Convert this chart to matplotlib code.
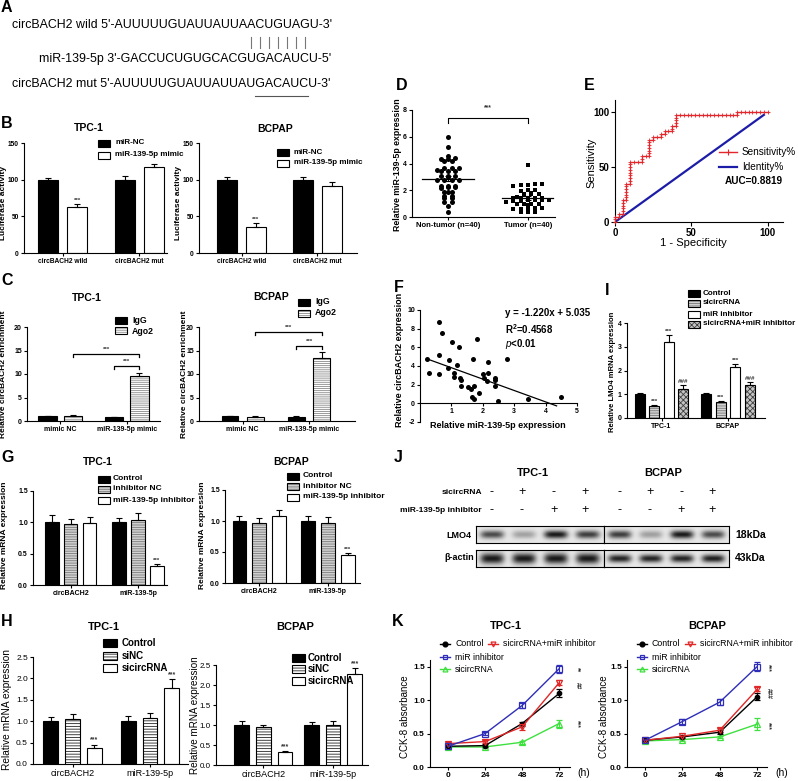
import numpy as np
import matplotlib
matplotlib.use('Agg')
import matplotlib.pyplot as plt
from matplotlib.patches import Rectangle
from matplotlib.lines import Line2D

plt.rcParams['font.family'] = ['Liberation Sans', 'DejaVu Sans']
plt.rcParams['mathtext.fontset'] = 'custom'
plt.rcParams['mathtext.rm'] = 'Liberation Sans'
plt.rcParams['mathtext.bf'] = 'Liberation Sans:bold'
plt.rcParams['mathtext.it'] = 'Liberation Sans:italic'
plt.rcParams['hatch.linewidth'] = 0.6
plt.rcParams['axes.linewidth'] = 0.8

# ======================= DATA =======================
# A: sequences
a_wild_prefix = "circBACH2 wild 5'-"
a_wild_seq = "AUUUUUGUAUUAUUAACUGUAGU"
a_wild_suffix = "-3'"
a_mir_prefix = "miR-139-5p 3'-"
a_mir_seq = "GACCUCUGUGCACGUGACAUCU"
a_mir_suffix = "-5'"
a_mut_prefix = "circBACH2 mut 5'-"
a_mut_seq = "AUUUUUGUAUUAUUAUGACAUCU"
a_mut_suffix = "-3'"
a_pair_wild = (15, 22)
a_pair_mir = (14, 21)
a_mut_under = (16, 22)

# B: luciferase
b_groups = ['circBACH2 wild', 'circBACH2 mut']
b_series = ['miR-NC', 'miR-139-5p mimic']
b_tpc_vals = [[100, 100], [63, 117]]
b_tpc_err = [[2.5, 4.5], [4, 5]]
b_tpc_stars = [['', ''], ['***', '']]
b_bcp_vals = [[100, 100], [36, 91]]
b_bcp_err = [[4, 3], [5, 6]]
b_bcp_stars = [['', ''], ['***', '']]

# C: RIP
c_groups = ['mimic NC', 'miR-139-5p mimic']
c_series = ['IgG', 'Ago2']
c_tpc_vals = [[1.0, 0.9], [1.1, 9.5]]
c_tpc_err = [[0.05, 0.05], [0.1, 0.7]]
c_bcp_vals = [[1.0, 0.95], [0.95, 13.5]]
c_bcp_err = [[0.05, 0.05], [0.05, 1.2]]
c_tpc_brackets = [(11.0, 11.7), (13.6, 14.3)]
c_bcp_brackets = [(15.3, 16.0), (18.2, 18.9)]

# D: scatter dot plot
d_groups = ['Non-tumor (n=40)', 'Tumor (n=40)']
d_nontumor = [6.0, 5.2, 4.55, 4.4, 4.3, 4.2, 4.2, 4.3, 3.7, 3.7, 3.7, 3.45, 3.45, 3.5,
              3.45, 3.1, 3.1, 3.0, 3.1, 2.8, 2.75, 2.75, 2.8, 2.3, 2.25, 2.2, 2.3, 2.3,
              2.25, 1.9, 1.85, 1.9, 1.55, 1.45, 1.45, 1.55, 1.1, 1.1, 0.85, 0.38]
d_tumor = [3.9, 2.45, 2.4, 2.35, 2.45, 2.4, 2.05, 1.95, 2.0, 1.75, 1.7, 1.8, 1.7, 1.65,
           1.45, 1.45, 1.5, 1.45, 1.4, 1.45, 1.25, 1.25, 1.2, 1.25, 1.25, 1.2, 1.15,
           0.95, 0.95, 0.9, 0.95, 0.95, 0.65, 0.6, 0.65, 0.65, 0.6, 0.35, 0.35, 0.4]

# E: ROC
e_fpr = [0, 0, 0, 2.5, 2.5, 5, 5, 5, 5, 5, 5, 7.5, 7.5, 7.5, 7.5, 7.5, 7.5, 7.5,
         10, 10, 10, 10, 10, 10, 10, 10, 10, 12.5, 15, 17.5, 17.5, 17.5, 20, 22.5,
         22.5, 22.5, 22.5, 22.5, 22.5, 22.5, 25, 25, 27.5, 30, 30, 32.5, 32.5, 35,
         37.5, 37.5, 37.5, 40, 40, 40, 40, 40, 42.5, 45, 47.5, 50, 52.5, 55, 57.5,
         60, 62.5, 65, 67.5, 70, 72.5, 75, 77.5, 80, 80, 82.5, 85, 87.5, 90, 92.5,
         95, 97.5, 100]
e_tpr = [0, 2.5, 5, 5, 7.5, 7.5, 10, 12.5, 15, 17.5, 20, 20, 22.5, 25, 27.5, 30,
         32.5, 35, 35, 37.5, 40, 42.5, 45, 47.5, 50, 52.5, 55, 55, 55, 55, 57.5, 60,
         60, 60, 62.5, 65, 67.5, 70, 72.5, 75, 75, 77.5, 77.5, 77.5, 80, 80, 82.5,
         82.5, 82.5, 85, 87.5, 87.5, 90, 92.5, 95, 97.5, 97.5, 97.5, 97.5, 97.5,
         97.5, 97.5, 97.5, 97.5, 97.5, 97.5, 97.5, 97.5, 97.5, 97.5, 97.5, 97.5, 100,
         100, 100, 100, 100, 100, 100, 100, 100]
e_identity = [0, 97.5]
e_auc = 'AUC=0.8819'

# F: correlation
f_x = [0.23, 0.30, 0.61, 0.71, 0.61, 0.60, 0.91, 0.90, 1.03, 1.09, 1.08, 1.18, 1.25,
       1.27, 1.29, 1.30, 1.68, 1.80, 1.52, 1.64, 1.72, 1.67, 1.72, 1.89, 2.01, 2.05,
       2.14, 2.18, 2.16, 2.38, 2.40, 2.38, 2.49, 2.76, 3.43, 4.50]
f_y = [4.8, 3.3, 8.75, 7.55, 5.15, 3.15, 4.6, 3.8, 6.55, 3.3, 2.8, 4.1, 6.0, 2.75, 2.5,
       1.9, 4.75, 6.9, 1.75, 1.5, 1.9, 0.65, 0.45, 1.1, 3.1, 2.75, 2.4, 4.4, 3.3, 2.75,
       2.45, 1.9, 0.3, 4.8, 0.45, 0.65]
f_slope, f_intercept = -1.220, 5.035
f_fit_x = [0.23, 4.35]

# G
g_groups = ['circBACH2', 'miR-139-5p']
g_series = ['Control', 'inhibitor NC', 'miR-139-5p inhibitor']
g_tpc_vals = [[1.0, 1.0], [0.97, 1.04], [0.99, 0.30]]
g_tpc_err = [[0.12, 0.07], [0.08, 0.11], [0.09, 0.04]]
g_bcp_vals = [[1.0, 1.0], [0.96, 0.96], [1.08, 0.45]]
g_bcp_err = [[0.08, 0.08], [0.09, 0.10], [0.10, 0.04]]
g_stars = [['', ''], ['', ''], ['', '***']]

# H
h_groups = ['circBACH2', 'miR-139-5p']
h_series = ['Control', 'siNC', 'sicircRNA']
h_tpc_vals = [[1.0, 1.0], [1.05, 1.07], [0.37, 1.77]]
h_tpc_err = [[0.10, 0.11], [0.11, 0.12], [0.08, 0.22]]
h_bcp_vals = [[1.0, 1.0], [0.95, 1.0], [0.32, 2.27]]
h_bcp_err = [[0.09, 0.07], [0.06, 0.10], [0.03, 0.16]]
h_stars = [['', ''], ['', ''], ['***', '***']]

# I
i_groups = ['TPC-1', 'BCPAP']
i_series = ['Control', 'sicircRNA', 'miR inhibitor', 'sicircRNA+miR inhibitor']
i_vals = [[1.0, 1.0], [0.52, 0.67], [3.22, 2.15], [1.22, 1.38]]
i_err = [[0.05, 0.06], [0.04, 0.03], [0.28, 0.13], [0.18, 0.14]]
i_stars = [['', ''], ['***', '***'], ['***', '***'], ['###', '###']]

# J: western blot
j_cells = ['TPC-1', 'BCPAP']
j_sicirc = ['-', '+', '-', '+', '-', '+', '-', '+']
j_inhib = ['-', '-', '+', '+', '-', '-', '+', '+']
j_lmo4 = [[0.72, 0.32, 0.95, 0.78], [0.78, 0.33, 0.95, 0.72]]
j_actin = [[0.95, 0.95, 0.95, 0.95], [0.9, 0.9, 0.9, 0.92]]

# K: CCK-8
k_time = [0, 24, 48, 72]
k_names = ['Control', 'sicircRNA+miR inhibitor', 'miR inhibitor', 'sicircRNA']
k_tpc = {'Control': ([0.31, 0.32, 0.65, 1.10], [0.02, 0.02, 0.03, 0.06]),
         'sicircRNA+miR inhibitor': ([0.35, 0.38, 0.60, 1.26], [0.02, 0.02, 0.05, 0.04]),
         'miR inhibitor': ([0.31, 0.50, 0.92, 1.47], [0.02, 0.02, 0.04, 0.06]),
         'sicircRNA': ([0.30, 0.30, 0.37, 0.65], [0.02, 0.02, 0.02, 0.06])}
k_bcp = {'Control': ([0.40, 0.45, 0.52, 1.05], [0.02, 0.02, 0.03, 0.05]),
         'sicircRNA+miR inhibitor': ([0.40, 0.46, 0.55, 1.16], [0.02, 0.02, 0.03, 0.03]),
         'miR inhibitor': ([0.40, 0.68, 0.97, 1.50], [0.02, 0.04, 0.04, 0.07]),
         'sicircRNA': ([0.39, 0.41, 0.45, 0.64], [0.02, 0.02, 0.02, 0.09])}
k_tpc_annot = [('**', 1.45), ('##', 1.22), ('***', 0.64)]
k_bcp_annot = [('***', 1.48), ('###', 1.10), ('***', 0.62)]

# ======================= LAYOUT HELPERS =======================
W, H = 798, 781
fig = plt.figure(figsize=(W / 100, H / 100), dpi=100)
fig.patch.set_facecolor('white')


def fx(x):
    return x / W


def fy(y):
    return 1 - y / H


def box(l, t, r, b):
    return [l / W, 1 - b / H, (r - l) / W, (b - t) / H]


def ftxt(x, y, s, **kw):
    kw.setdefault('ha', 'left')
    kw.setdefault('va', 'center')
    return fig.text(fx(x), fy(y), s, **kw)


def make_ax(l, t, r, b, xlim, ylim):
    ax = fig.add_axes(box(l, t, r, b))
    ax.set_xlim(*xlim)
    ax.set_ylim(*ylim)
    ax.spines['top'].set_visible(False)
    ax.spines['right'].set_visible(False)
    ax.patch.set_alpha(0)
    ax.tick_params(direction='out', length=2.5, width=0.8, pad=1.2, colors='black')
    return ax


STY = {
    'black': dict(fc='black', hatch=None, hc=None),
    'white': dict(fc='white', hatch=None, hc=None),
    'gstripe': dict(fc='#d2d2d2', hatch='-------', hc='#7a7a7a'),
    'wstripe': dict(fc='white', hatch='--------', hc='#8a8a8a'),
    'kstripe': dict(fc='white', hatch='------', hc='#222222'),
    'check': dict(fc='#c4c4c4', hatch='xxxxxx', hc='#404040'),
}


def draw_bar(ax, x, h, w, style, lw=0.8):
    st = STY[style]
    if st['hatch']:
        ax.bar(x, h, w, color=st['fc'], edgecolor=st['hc'], hatch=st['hatch'],
               linewidth=0, zorder=2)
        ax.bar(x, h, w, fill=False, edgecolor='black', linewidth=lw, zorder=3)
    else:
        ax.bar(x, h, w, color=st['fc'], edgecolor='black', linewidth=lw, zorder=2)


def leg_patch(x, y, style, label, fs, weight='bold', w=12, h=7, tx=None):
    st = STY[style]
    if st['hatch']:
        fig.add_artist(Rectangle((fx(x), fy(y + h / 2)), w / W, h / H,
                                 transform=fig.transFigure, facecolor=st['fc'],
                                 edgecolor=st['hc'], hatch=st['hatch'], linewidth=0))
        fig.add_artist(Rectangle((fx(x), fy(y + h / 2)), w / W, h / H,
                                 transform=fig.transFigure, fill=False,
                                 edgecolor='black', linewidth=0.8))
    else:
        fig.add_artist(Rectangle((fx(x), fy(y + h / 2)), w / W, h / H,
                                 transform=fig.transFigure, facecolor=st['fc'],
                                 edgecolor='black', linewidth=0.8))
    ftxt(tx if tx is not None else x + w + 5, y, label, fontsize=fs, fontweight=weight)


def bar_panel(px, xlim, ylim, yticks, yfmt, groups, styles, vals, errs, width,
              offsets, stars=None, tick_fs=5, tick_w='bold', xtick_fs=None,
              star_fs=4.5):
    ax = make_ax(*px, xlim, ylim)
    for si, st in enumerate(styles):
        for gi in range(len(groups)):
            x = gi + offsets[si]
            v = vals[si][gi]
            e = errs[si][gi]
            draw_bar(ax, x, v, width, st)
            ax.errorbar([x], [v], yerr=[[0], [e]], fmt='none', ecolor='black',
                        elinewidth=0.8, capsize=2, capthick=0.8, zorder=4)
            if stars and stars[si][gi]:
                ax.text(x, v + e + (ylim[1] - ylim[0]) * 0.01, stars[si][gi],
                        ha='center', va='bottom', fontsize=star_fs,
                        fontweight='bold', color='#333333')
    ax.spines['left'].set_bounds(ylim[0], yticks[-1])
    ax.set_yticks(yticks)
    ax.set_yticklabels([yfmt.format(t) for t in yticks], fontsize=tick_fs,
                       fontweight=tick_w)
    ax.set_xticks(range(len(groups)))
    ax.set_xticklabels(groups, fontsize=xtick_fs or tick_fs, fontweight=tick_w)
    return ax


# ======================= PANEL LETTERS =======================
for letter, x, y in [('A', 1, 7), ('B', 1, 123), ('C', 1, 281), ('D', 396, 85),
                     ('E', 584, 85), ('F', 394, 287), ('I', 605, 290), ('G', 1, 458),
                     ('J', 394, 458), ('H', 1, 622), ('K', 392, 622)]:
    ftxt(x, y, letter, fontsize=11.5, fontweight='bold')

# ======================= PANEL A =======================
renderer = fig.canvas.get_renderer()
wild_line = a_wild_prefix + a_wild_seq + a_wild_suffix
tA = ftxt(12, 25, wild_line, fontsize=9)
wA = tA.get_window_extent(renderer).width
fsA = 9 * 321 / wA
tA.set_fontsize(fsA)


def tw(s):
    if not s:
        return 0.0
    t = fig.text(0, 0, s, fontsize=fsA)
    w = t.get_window_extent(renderer).width
    t.remove()
    return w


def char_span(x0, line, idx):
    return x0 + tw(line[:idx]), x0 + tw(line[:idx + 1])


wild_x0 = 12
pipe_x = []
for k in range(a_pair_wild[0], a_pair_wild[1]):
    i = len(a_wild_prefix) + k
    l, r = char_span(wild_x0, wild_line, i)
    pipe_x.append((l + r) / 2)

mir_line = a_mir_prefix + a_mir_seq + a_mir_suffix
i_m = len(a_mir_prefix) + a_pair_mir[0]
lw_, rw_ = char_span(0, mir_line, i_m)
mir_x0 = pipe_x[0] - (lw_ + rw_) / 2
ftxt(mir_x0, 59, mir_line, fontsize=fsA)
for px_ in pipe_x:
    fig.add_artist(Line2D([fx(px_), fx(px_)], [fy(37), fy(48)], color='#777777',
                          lw=0.8, transform=fig.transFigure))

mut_line = a_mut_prefix + a_mut_seq + a_mut_suffix
ftxt(12, 84, mut_line, fontsize=fsA)
ul, _ = char_span(12, mut_line, len(a_mut_prefix) + a_mut_under[0])
_, ur = char_span(12, mut_line, len(a_mut_prefix) + a_mut_under[1] - 1)
fig.add_artist(Line2D([fx(ul), fx(ur)], [fy(96), fy(96)], color='#555555', lw=0.8,
                      transform=fig.transFigure))

# ======================= PANEL B =======================
TFS = 7.5
ftxt(89, 128, 'TPC-1', fontsize=TFS, fontweight='bold', ha='center')
ftxt(275, 129, 'BCPAP', fontsize=TFS, fontweight='bold', ha='center')
bar_panel((24, 143, 167, 253), (-0.505, 1.36), (0, 150), [0, 50, 100, 150], '{:g}',
          b_groups, ['black', 'white'], b_tpc_vals, b_tpc_err, 0.26, [-0.19, 0.19],
          b_tpc_stars, tick_fs=4.8)
bar_panel((199, 143, 357, 253), (-0.56, 1.52), (0, 150), [0, 50, 100, 150], '{:g}',
          b_groups, ['black', 'white'], b_bcp_vals, b_bcp_err, 0.26, [-0.19, 0.19],
          b_bcp_stars, tick_fs=4.8)
for x in (4, 179):
    ftxt(x, 203, 'Luciferase activity', fontsize=6.0, fontweight='bold', rotation=90,
         ha='center')
for st, lab, y in zip(['black', 'white'], b_series, [143, 155]):
    leg_patch(98, y, st, lab, 5.8)
for st, lab, y in zip(['black', 'white'], b_series, [152, 163]):
    leg_patch(277, y, st, lab, 5.8)

# ======================= PANEL C =======================
ftxt(87, 298, 'TPC-1', fontsize=TFS, fontweight='bold', ha='center')
ftxt(271, 297, 'BCPAP', fontsize=TFS, fontweight='bold', ha='center')
axC1 = bar_panel((27, 327, 160, 421), (-0.5, 1.5), (0, 20), [0, 5, 10, 15, 20], '{:g}',
                 c_groups, ['black', 'wstripe'], c_tpc_vals, c_tpc_err, 0.28,
                 [-0.19, 0.19])
axC2 = bar_panel((199, 327, 355, 421), (-0.655, 1.69), (0, 20), [0, 5, 10, 15, 20],
                 '{:g}', c_groups, ['black', 'wstripe'], c_bcp_vals, c_bcp_err, 0.25,
                 [-0.19, 0.19])
for ax, brs in [(axC1, c_tpc_brackets), (axC2, c_bcp_brackets)]:
    spans = [(1 - 0.19, 1 + 0.19), (0.19, 1 + 0.19)]
    for (x1, x2), (lo, hi) in zip(spans, brs):
        ax.plot([x1, x1, x2, x2], [lo, hi, hi, lo], color='black', lw=0.9,
                clip_on=False)
        ax.text((x1 + x2) / 2, hi + 0.5, '***', ha='center', va='bottom', fontsize=4.5,
                fontweight='bold', color='#333333', clip_on=False)
for x in (4, 184):
    ftxt(x, 374, 'Relative circBACH2 enrichment', fontsize=6, fontweight='bold',
         rotation=90, ha='center')
for st, lab, y in zip(['black', 'wstripe'], c_series, [320, 331]):
    leg_patch(115, y, st, lab, 6.3, tx=132)
for st, lab, y in zip(['black', 'wstripe'], c_series, [302, 313]):
    leg_patch(298, y, st, lab, 6.3, tx=315)

# ======================= PANEL D =======================
axD = make_ax(412, 110, 555, 217, (-0.45, 1.34), (0, 8))
for gi, (vals, mk) in enumerate([(d_nontumor, 'o'), (d_tumor, 's')]):
    v = np.array(vals)
    bins = np.round(v * 5) / 5
    xo = np.zeros_like(v)
    for bval in np.unique(bins):
        idx = np.where(bins == bval)[0]
        idx = idx[np.argsort(v[idx])]
        n = len(idx)
        xo[idx] = (np.arange(n) - (n - 1) / 2) * 0.09
    axD.plot(gi + xo, v, mk, color='black', ms=3.6 if mk == 'o' else 3.3, mew=0,
             zorder=3, clip_on=False)
    m = v.mean()
    se = v.std(ddof=1) / np.sqrt(len(v))
    axD.plot([gi - 0.32, gi + 0.32], [m, m], color='black', lw=0.9, zorder=4)
    axD.errorbar([gi], [m], yerr=[se], fmt='none', ecolor='black', elinewidth=0.8,
                 capsize=2.5, capthick=0.8, zorder=4)
axD.plot([0, 0, 1, 1], [7.0, 7.4, 7.4, 7.0], color='black', lw=0.8, clip_on=False)
axD.text(0.5, 7.9, '***', ha='center', va='bottom', fontsize=4.8, fontweight='bold',
         color='#333333')
axD.spines['left'].set_bounds(0, 8)
axD.set_yticks([0, 2, 4, 6, 8])
axD.set_yticklabels(['0', '2', '4', '6', '8'], fontsize=5, fontweight='bold')
axD.set_xticks([0, 1])
axD.set_xticklabels(d_groups, fontsize=5.5, fontweight='bold')
ftxt(398, 165, 'Relative miR-139-5p expression', fontsize=6.3, fontweight='bold',
     rotation=90, ha='center')

# ======================= PANEL E =======================
axE = make_ax(615, 100, 783, 222, (0, 110), (0, 111))
axE.plot(e_identity, e_identity, color='#1c1ca8', lw=1.6, zorder=2)
axE.plot(e_fpr, e_tpr, color='#e3262b', lw=1.0, marker='+', ms=3.0, mew=0.6,
         zorder=3, clip_on=False)
axE.set_xticks([0, 50, 100])
axE.set_yticks([0, 50, 100])
axE.set_xticklabels(['0', '50', '100'], fontsize=7, fontweight='bold')
axE.set_yticklabels(['0', '50', '100'], fontsize=7, fontweight='bold')
axE.tick_params(length=3)
ftxt(591, 163, 'Sensitivity', fontsize=8, rotation=90, ha='center')
ftxt(693, 243, '1 - Specificity', fontsize=8, ha='center')
fig.add_artist(Line2D([fx(719), fx(728), fx(737)], [fy(152)] * 3, color='#e3262b', lw=1,
                      marker='+', markevery=[1], ms=4, mew=0.8,
                      transform=fig.transFigure))
ftxt(742, 152, 'Sensitivity%', fontsize=7.2)
fig.add_artist(Line2D([fx(719), fx(737)], [fy(167)] * 2, color='#1c1ca8', lw=1.6,
                      transform=fig.transFigure))
ftxt(742, 167, 'Identity%', fontsize=7.2)
ftxt(725, 181, e_auc, fontsize=7.2, fontweight='bold')

# ======================= PANEL F =======================
axF = make_ax(420, 310, 577, 422, (0, 5), (-2, 10))
axF.spines['bottom'].set_position(('data', 0))
axF.plot(f_x, f_y, 'o', color='black', ms=3.6, mew=0, zorder=3)
fxs = np.array(f_fit_x)
axF.plot(fxs, f_slope * fxs + f_intercept, color='black', lw=0.9, zorder=2)
axF.set_yticks([-2, 0, 2, 4, 6, 8, 10])
axF.set_yticklabels(['-2', '0', '2', '4', '6', '8', '10'], fontsize=5, fontweight='bold')
axF.set_xticks([1, 2, 3, 4, 5])
axF.set_xticklabels(['1', '2', '3', '4', '5'], fontsize=5, fontweight='bold')
ftxt(505, 313, 'y = %.3fx + %.3f' % (f_slope, f_intercept), fontsize=7,
     fontweight='bold')
ftxt(505, 329, r'R$^{\mathbf{2}}$=0.4568', fontsize=7, fontweight='bold')
ftxt(505, 344, r'$\mathit{p}$<0.01', fontsize=7, fontweight='bold')
ftxt(399, 360, 'Relative circBACH2 expression', fontsize=6.5, fontweight='bold',
     rotation=90, ha='center')
ftxt(498, 425, 'Relative miR-139-5p expression', fontsize=6.5, fontweight='bold',
     ha='center')

# ======================= PANEL I =======================
bar_panel((627, 323, 765, 418), (-0.52, 1.56), (0, 4), [0, 1, 2, 3, 4], '{:g}',
          i_groups, ['black', 'gstripe', 'white', 'check'], i_vals, i_err, 0.15,
          [-0.33, -0.11, 0.11, 0.33], i_stars)
ftxt(612, 372, 'Relative LMO4 mRNA expression', fontsize=5.5, fontweight='bold',
     rotation=90, ha='center')
for st, lab, y in zip(['black', 'gstripe', 'white', 'check'], i_series,
                      [293, 303, 314, 324]):
    leg_patch(688, y, st, lab, 5.8, tx=703)

# ======================= PANEL G =======================
ftxt(98, 462, 'TPC-1', fontsize=TFS, fontweight='bold', ha='center')
ftxt(291, 462, 'BCPAP', fontsize=TFS, fontweight='bold', ha='center')
gst = ['black', 'gstripe', 'white']
bar_panel((33, 491, 167, 585), (-0.56, 1.43), (0, 1.5), [0, 0.5, 1.0, 1.5], '{:.1f}',
          g_groups, gst, g_tpc_vals, g_tpc_err, 0.2, [-0.28, 0, 0.28], g_stars)
bar_panel((225, 490, 360, 583), (-0.5, 1.47), (0, 1.5), [0, 0.5, 1.0, 1.5], '{:.1f}',
          g_groups, gst, g_bcp_vals, g_bcp_err, 0.2, [-0.29, 0, 0.29], g_stars)
for x in (5, 203):
    ftxt(x, 535, 'Relative mRNA expression', fontsize=6, fontweight='bold',
         rotation=90, ha='center')
for st, lab, y in zip(gst, g_series, [479, 489, 500]):
    leg_patch(98, y, st, lab, 6, tx=113)
for st, lab, y in zip(gst, g_series, [476, 486, 497]):
    leg_patch(287, y, st, lab, 6, tx=303)

# ======================= PANEL H =======================
ftxt(104, 627, 'TPC-1', fontsize=8, fontweight='bold', ha='center')
ftxt(295, 627, 'BCPAP', fontsize=8, fontweight='bold', ha='center')
hst = ['black', 'kstripe', 'white']
bar_panel((33, 657, 188, 764), (-0.51, 1.49), (0, 2.5),
          [0, 0.5, 1.0, 1.5, 2.0, 2.5], '{:.1f}', h_groups, hst, h_tpc_vals,
          h_tpc_err, 0.19, [-0.28, 0, 0.28], h_stars, tick_fs=6, tick_w='normal',
          xtick_fs=6.5, star_fs=5)
bar_panel((216, 665, 368, 765), (-0.68, 1.5), (0, 2.5),
          [0, 0.5, 1.0, 1.5, 2.0, 2.5], '{:.1f}', h_groups, hst, h_bcp_vals,
          h_bcp_err, 0.21, [-0.31, 0, 0.31], h_stars, tick_fs=5.8, tick_w='normal',
          xtick_fs=6.5, star_fs=5)
ftxt(7, 710, 'Relative mRNA expression', fontsize=7.3, rotation=90, ha='center')
ftxt(195, 715, 'Relative mRNA expression', fontsize=7.1, rotation=90, ha='center')
for st, lab, y in zip(hst, h_series, [643, 656, 668]):
    leg_patch(103, y, st, lab, 7, w=14, h=8, tx=122)
for st, lab, y in zip(hst, h_series, [658, 669, 681]):
    leg_patch(292, y, st, lab, 7, w=13, h=8, tx=308)

# ======================= PANEL J =======================
ftxt(533, 473, j_cells[0], fontsize=8, fontweight='bold', ha='center')
ftxt(663, 473, j_cells[1], fontsize=8, fontweight='bold', ha='center')
lane_x = [492, 522, 554, 585, 619, 650, 681, 712]
ftxt(482, 493, 'sicircRNA', fontsize=6, fontweight='bold', ha='right')
ftxt(482, 511, 'miR-139-5p inhibitor', fontsize=6, fontweight='bold', ha='right')
for lx, s1, s2 in zip(lane_x, j_sicirc, j_inhib):
    ftxt(lx, 492, s1, fontsize=9, ha='center')
    ftxt(lx, 510, s2, fontsize=9, ha='center')


def blot(l, t, r, b, intens, thick):
    ax = fig.add_axes(box(l, t, r, b))
    xs = np.linspace(0, 4, 260)
    ys = np.linspace(0, 1, 40)
    X, Y = np.meshgrid(xs, ys)
    dark = np.zeros_like(X)
    for i, v in enumerate(intens):
        dark += v * np.exp(-np.abs((X - (i + 0.5)) / 0.37) ** 4) * \
            np.exp(-((Y - 0.5) / thick) ** 2)
    img = 0.91 - 0.86 * np.clip(dark, 0, 1)
    ax.imshow(img, cmap='gray', vmin=0, vmax=1, extent=(0, 4, 0, 1), aspect='auto',
              interpolation='bilinear')
    ax.set_xticks([])
    ax.set_yticks([])
    for s in ax.spines.values():
        s.set_linewidth(0.8)


blot(476, 526, 604, 543, j_lmo4[0], 0.24)
blot(604, 526, 729, 543, j_lmo4[1], 0.24)
blot(476, 550, 604, 567, j_actin[0], 0.32)
blot(604, 550, 729, 567, j_actin[1], 0.24)
ftxt(459, 535, 'LMO4', fontsize=6.5, fontweight='bold', ha='center')
ftxt(459, 558, 'β-actin', fontsize=6.5, fontweight='bold', ha='center')
ftxt(735, 535, '18kDa', fontsize=7.5, fontweight='bold')
ftxt(735, 558, '43kDa', fontsize=7.5, fontweight='bold')

# ======================= PANEL K =======================
K_STY = {'Control': ('black', 'o', 'black'),
         'sicircRNA+miR inhibitor': ('#e02828', 'v', 'none'),
         'miR inhibitor': ('#2e2eb8', 's', 'none'),
         'sicircRNA': ('#3ee03e', '^', 'none')}


def k_panel(px, xlim, data, annots, annot_x):
    ax = make_ax(*px, xlim, (0, 1.6))
    for name in ['sicircRNA', 'Control', 'sicircRNA+miR inhibitor', 'miR inhibitor']:
        vals, errs = data[name]
        c, mk, mfc = K_STY[name]
        ax.errorbar(k_time, vals, yerr=errs, color=c, marker=mk, mfc=mfc,
                    ms=4 if mk != 'o' else 3.2, mew=0.9, lw=1.0, elinewidth=0.8,
                    capsize=2, capthick=0.8, clip_on=False, zorder=3)
    for s, y in annots:
        ax.text(annot_x, y, s, rotation=270, ha='center', va='center', fontsize=4.8,
                fontweight='bold', color='#333333', clip_on=False)
    ax.spines['left'].set_bounds(0, 1.6)
    ax.set_yticks([0, 0.5, 1.0, 1.5])
    ax.set_yticklabels(['0.0', '0.5', '1.0', '1.5'], fontsize=6, fontweight='bold')
    ax.set_xticks(k_time)
    ax.set_xticklabels([str(t) for t in k_time], fontsize=6, fontweight='bold')
    return ax


ftxt(506, 626, 'TPC-1', fontsize=8, fontweight='bold', ha='center')
ftxt(707, 626, 'BCPAP', fontsize=8, fontweight='bold', ha='center')
k_panel((430, 660, 570, 767), (-11.7, 79), k_tpc, k_tpc_annot, 84)
k_panel((627, 660, 767, 767), (-11.6, 78.4), k_bcp, k_bcp_annot, 79)
ftxt(577, 773, '(h)', fontsize=7.5)
ftxt(775, 773, '(h)', fontsize=7.5)
for x in (405, 604):
    ftxt(x, 717, 'CCK-8 absorbance', fontsize=7, rotation=90, ha='center')


def k_leg(x1, y, name, tx):
    c, mk, mfc = K_STY[name]
    fig.add_artist(Line2D([fx(x1), fx(x1 + 5), fx(x1 + 10)], [fy(y)] * 3, color=c, lw=1,
                          marker=mk, markevery=[1], mfc=mfc, ms=3.5, mew=0.9,
                          transform=fig.transFigure))
    ftxt(tx, y, name, fontsize=6.3)


for ox in (0, 197):
    k_leg(440 + ox, 644, 'Control', 455 + ox)
    k_leg(488 + ox, 644, 'sicircRNA+miR inhibitor', 503 + ox)
    k_leg(440 + ox, 657, 'miR inhibitor', 455 + ox)
    k_leg(440 + ox, 669, 'sicircRNA', 455 + ox)

fig.savefig('out.png', dpi=100)
